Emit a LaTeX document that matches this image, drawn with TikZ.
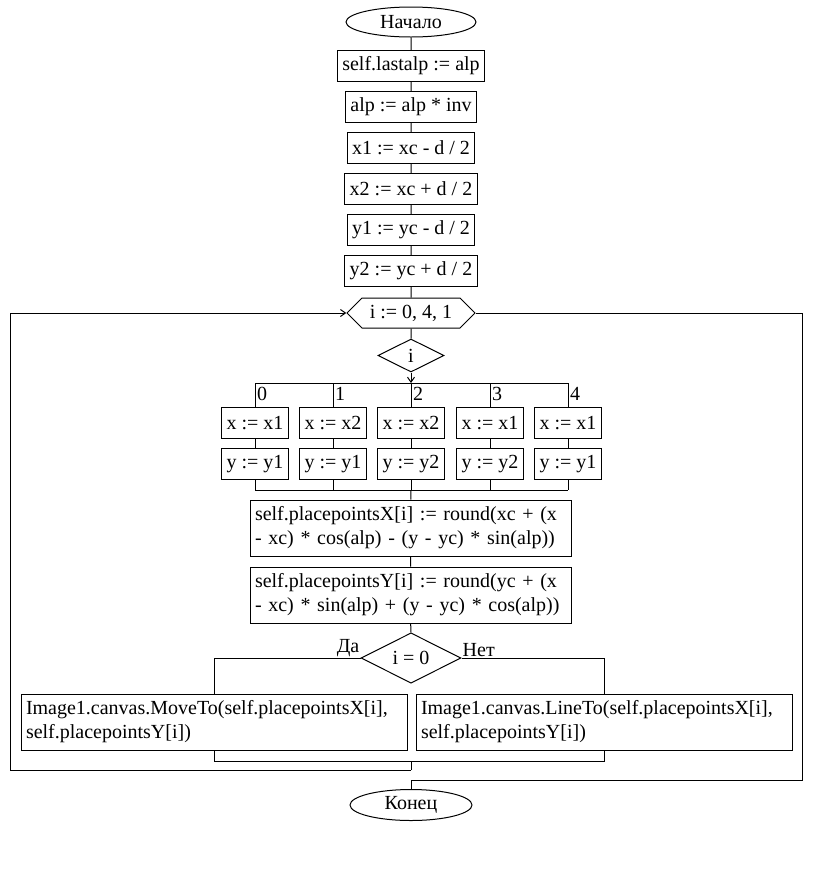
\documentclass[tikz,border=0pt]{standalone}
\usepackage{fontspec}
\setmainfont{Liberation Serif}
\usetikzlibrary{shapes.geometric,shapes.symbols,arrows.meta}
\tikzset{
    block/.style={draw, line width=1pt, fill=white, minimum height=31, inner xsep=5, inner ysep=0},
    textblock/.style={block, text width=#1, align=left, minimum height=56},
    term/.style={draw, line width=1pt, ellipse, inner sep=0},
    cond/.style={draw, line width=1pt, diamond, inner sep=0},
    line/.style={line width=1pt},
    arr/.style={line width=1pt, -{Straight Barb[length=5,width=7]}},
    case/.style={anchor=north west, inner sep=1, xshift=1, yshift=-3}
}

\begin{document}
\begin{tikzpicture}[x=1pt, y=1pt, font=\fontsize{20}{24}\selectfont]
        \useasboundingbox (0,0) rectangle (812,-884);

        \node[term, minimum width=130, minimum height=30] (start) at (411,-22) {Начало};
        \node[block] (b1) at (411,-66) {self.lastalp := alp};
        \node[block] (b2) at (411,-107) {alp := alp * inv};
        \node[block] (b3) at (411,-148) {x1 := xc - d / 2};
        \node[block] (b4) at (411,-189) {x2 := xc + d / 2};
        \node[block] (b5) at (411,-230) {y1 := yc - d / 2};
        \node[block] (b6) at (411,-271) {y2 := yc + d / 2};
        \node[draw, line width=1pt, signal, signal to=west and east, signal pointer angle=90,
              minimum width=128, minimum height=30, inner sep=0] (loop) at (411,-313) {i := 0, 4, 1};
        \node[cond, minimum width=66, minimum height=33] (sw) at (411,-355.5) {i};

        % case branches
        \coordinate (c0) at (255,-383);
        \coordinate (c1) at (333,-383);
        \coordinate (c2) at (411,-383);
        \coordinate (c3) at (490,-383);
        \coordinate (c4) at (568,-383);

        \node[block] (x0) at (255,-423) {x := x1};
        \node[block] (x1) at (333,-423) {x := x2};
        \node[block] (x2) at (411,-423) {x := x2};
        \node[block] (x3) at (490,-423) {x := x1};
        \node[block] (x4) at (568,-423) {x := x1};

        \node[block] (y0) at (255,-464) {y := y1};
        \node[block] (y1) at (333,-464) {y := y1};
        \node[block] (y2) at (411,-464) {y := y2};
        \node[block] (y3) at (490,-464) {y := y2};
        \node[block] (y4) at (568,-464) {y := y1};

        \node[case] at (c0) {0};
        \node[case] at (c1) {1};
        \node[case] at (c2) {2};
        \node[case] at (c3) {3};
        \node[case] at (c4) {4};

        \coordinate (m0) at (255,-490);
        \coordinate (m2) at (411,-490);
        \coordinate (m4) at (568,-490);

        \node[textblock=311] (px) at (410.5,-528) {self.placepointsX[i] := round(xc + (x\\- xc) * cos(alp) - (y - yc) * sin(alp))};
        \node[textblock=311] (py) at (410.5,-595) {self.placepointsY[i] := round(yc + (x\\- xc) * sin(alp) + (y - yc) * cos(alp))};
        \node[cond, minimum width=100, minimum height=50] (ifz) at (411,-658) {i = 0};
        \node[anchor=south east, inner sep=1] at (ifz.west) {Да};
        \node[anchor=south west, inner sep=1] at (ifz.east) {Нет};

        \node[textblock=376] (mv) at (214,-722) {Image1.canvas.MoveTo(self.placepointsX[i],\\self.placepointsY[i])};
        \node[textblock=366] (ln) at (604,-722) {Image1.canvas.LineTo(self.placepointsX[i],\\self.placepointsY[i])};

        \coordinate (j) at (411,-761);
        \coordinate (back) at (411,-770);
        \coordinate (out) at (411,-780);

        \node[term, minimum width=122, minimum height=31] (end) at (411,-805) {Конец};

        % main line
        \draw[line] (start) -- (b1) -- (b2) -- (b3) -- (b4) -- (b5) -- (b6) -- (loop);
        \draw[line] (loop) -- (sw);
        \draw[arr] (sw.south) -- (c2);
        \draw[line] (c0) -- (c4);
        \draw[line] (c0) -- (x0) -- (y0) -- (m0);
        \draw[line] (c1) -- (x1) -- (y1) -- (y1.south |- m0);
        \draw[line] (c2) -- (x2) -- (y2) -- (m2);
        \draw[line] (c3) -- (x3) -- (y3) -- (y3.south |- m0);
        \draw[line] (c4) -- (x4) -- (y4) -- (m4);
        \draw[line] (m0) -- (m4);
        \draw[line] (m2) -- (px) -- (py) -- (ifz);

        % if branches
        \draw[line] (ifz.west) -| (mv.north);
        \draw[line] (ifz.east) -| (ln.north);
        \draw[line] (mv.south) |- (j -| ln.south) -- (ln.south);
        \draw[line] (j) -- (back);

        % loop back and exit
        \draw[arr] (back) -- (10,-770) |- (loop.west);
        \draw[line] (loop.east) -- (802,-313) |- (out) -- (end);
    \end{tikzpicture}
\end{document}
